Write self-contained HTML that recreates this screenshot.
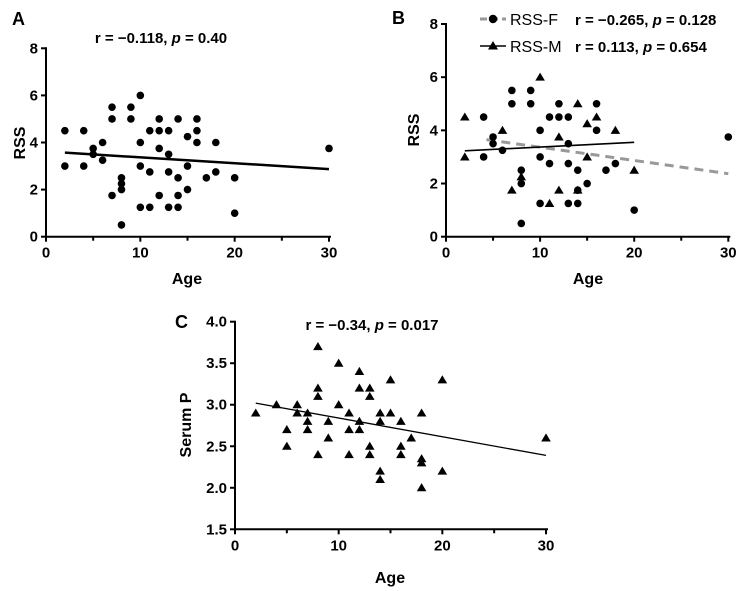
<!DOCTYPE html>
<html><head><meta charset="utf-8"><style>
body{margin:0;background:#fff}
svg{display:block;font-family:"Liberation Sans",Arial,sans-serif}
</style></head><body>
<svg id="c" width="748" height="591"></svg>
<script>
const aX=[2,2,4,4,5,5,6,6,7,7,7,8,8,8,8,9,9,10,10,10,10,11,11,11,12,12,12,12,13,13,13,13,14,14,14,14,15,15,15,16,16,16,17,18,18,20,20,30];
const aY=[4.5,3,4.5,3,3.75,3.5,4,3.25,5.5,5,1.75,2.5,2.25,2,0.5,5.5,5,6,4,3,1.25,4.5,2.75,1.25,5,4.5,3.75,1.75,4.5,3.5,2.75,1.25,5,2.5,1.75,1.25,4.25,3,2,5,4.5,4,2.5,4,2.75,2.5,1,3.75];
const aLine=[[2,3.57],[30,2.87]];
const fX=[4,4,5,5,6,7,7,8,8,8,9,9,10,10,10,11,11,12,12,13,13,13,13,14,14,14,15,16,16,17,18,20,30];
const fY=[4.5,3,3.75,3.5,3.25,5.5,5,2.5,2,0.5,5.5,5,4,3,1.25,4.5,2.75,5,4.5,4.5,3.5,2.75,1.25,2.5,1.75,1.25,2,5,4,2.5,2.75,1,3.75];
const mX=[2,2,6,7,8,10,11,12,12,14,14,15,15,16,18,20];
const mY=[4.5,3,4,1.75,2.25,6,1.25,3.75,1.75,5,1.75,4.25,3,4.5,4,2.5];
const fLine=[[4.3,3.65],[30,2.37]];
const mLine=[[2,3.23],[20,3.55]];
const cX=[2,4,5,5,6,6,7,7,7,8,8,8,8,9,9,10,10,11,11,11,12,12,12,12,13,13,13,13,14,14,14,14,15,15,16,16,16,17,18,18,18,18,20,20,30];
const cY=[2.9,3.0,2.7,2.5,3.0,2.9,2.9,2.8,2.7,3.7,3.2,3.1,2.4,2.8,2.6,3.5,3.0,2.9,2.7,2.4,3.4,3.2,2.8,2.7,3.2,3.1,2.5,2.4,2.9,2.8,2.2,2.1,3.3,2.9,2.8,2.5,2.4,2.6,2.9,2.35,2.3,2.0,3.3,2.2,2.6];
const cLine=[[2,3.02],[30,2.39]];
const xTicks=[0,10,20,30];
const yTicksAB=[0,2,4,6,8];
const yTicksC=["1.5","2.0","2.5","3.0","3.5","4.0"];

const svg=document.getElementById('c');
const NS="http://www.w3.org/2000/svg";
function mk(tag,at,parent,txt){const e=document.createElementNS(NS,tag);for(const k in at)e.setAttribute(k,at[k]);if(txt!==undefined)e.textContent=txt;(parent||svg).appendChild(e);return e;}
const TICK='font-size:15px;font-weight:bold';

function panel(name,x0,x1,yb,yt,ymin,ymax,yticks){
  const g=mk('g',{},svg);
  
  
  const sx=v=>x0+(v-0)/30*(x1-x0);
  const sy=v=>yb-(v-ymin)/(ymax-ymin)*(yb-yt);
  const ax=mk('g',{stroke:'#000','stroke-width':2,fill:'none'},g);
  
  
  mk('line',{x1:x0,y1:yb,x2:x1+2,y2:yb},ax);
  mk('line',{x1:x0,y1:yb+1,x2:x0,y2:yt-1},ax);
  for(let v=0;v<=30;v+=5){mk('line',{x1:sx(v),y1:yb,x2:sx(v),y2:yb+(v%10==0?5:4)},ax);}
  xTicks.forEach(v=>{const t=mk('text',{x:sx(v),y:yb+21,'text-anchor':'middle',style:TICK},g,String(v));
    });
  yticks.forEach(s=>{const v=parseFloat(s);mk('line',{x1:x0-5,y1:sy(v),x2:x0,y2:sy(v)},ax);
    const t=mk('text',{x:x0-8,y:sy(v)+5,'text-anchor':'end',style:TICK},g,s);
    });
  return {g,sx,sy};
}
function dots(p,X,Y,shape,nm){
  X.forEach((x,i)=>{const cx=p.sx(x),cy=p.sy(Y[i]);let e;
    if(shape==='c')e=mk('circle',{cx,cy,r:3.8,fill:'#000'},p.g);
    else e=mk('polygon',{points:`${cx},${cy-4.6} ${cx-4.8},${cy+3.5} ${cx+4.8},${cy+3.5}`,fill:'#000'},p.g);
    });
}
function fit(p,L,attrs,nm){const e=mk('line',Object.assign({x1:p.sx(L[0][0]),y1:p.sy(L[0][1]),x2:p.sx(L[1][0]),y2:p.sy(L[1][1])},attrs),p.g);
  }
function txt(x,y,s,style,extra,nm){const e=mk('text',Object.assign({x,y,style},extra||{}),svg);e.innerHTML=s;
  return e;}
const STAT='font-size:15px;font-weight:bold';
const AT='font-size:16px;font-weight:bold';
const LET='font-size:18px;font-weight:bold';

// Panel A
const A=panel('panel-a',46,329,236.7,48.3,0,8,yTicksAB.map(String));
dots(A,aX,aY,'c','point-a');
fit(A,aLine,{stroke:'#000','stroke-width':2.5},'fit-line-a');
txt(12,25,'A',LET,{},'panel-letter-a');
txt(161,43,'r = \u22120.118, <tspan font-style="italic">p</tspan> = 0.40',STAT,{'text-anchor':'middle'},'stat-a');
txt(187,284,'Age',AT,{'text-anchor':'middle'},'x-axis-title-a');
txt(0,0,'RSS',AT,{'text-anchor':'middle',transform:'translate(25,143) rotate(-90)'},'y-axis-title-a');

// Panel B
const B=panel('panel-b',446,728.3,236.7,24,0,8,yTicksAB.map(String));
fit(B,fLine,{stroke:'#999','stroke-width':3,'stroke-dasharray':'9,6'},'fit-line-female');
dots(B,fX,fY,'c','point-female');
dots(B,mX,mY,'t','point-male');
fit(B,mLine,{stroke:'#000','stroke-width':1.6},'fit-line-male');
txt(392,24,'B',LET,{},'panel-letter-b');
const lg1=mk('line',{x1:480,y1:19,x2:506,y2:19,stroke:'#999','stroke-width':3,'stroke-dasharray':'7,4'});

const lc=mk('circle',{cx:493,cy:19,r:4.2,fill:'#000'});
const lg2=mk('line',{x1:480,y1:46,x2:506,y2:46,stroke:'#000','stroke-width':1.6});

const lt=mk('polygon',{points:'493,41 488,49.5 498,49.5',fill:'#000'});
txt(510,25,'RSS-F','font-size:16px',{},'legend-label-female');
txt(510,52,'RSS-M','font-size:16px',{},'legend-label-male');
txt(575,25,'r = \u22120.265, <tspan font-style="italic">p</tspan> = 0.128',STAT,{},'stat-female');
txt(575,52,'r = 0.113, <tspan font-style="italic">p</tspan> = 0.654',STAT,{},'stat-male');
txt(588,284,'Age',AT,{'text-anchor':'middle'},'x-axis-title-b');
txt(0,0,'RSS',AT,{'text-anchor':'middle',transform:'translate(419,130) rotate(-90)'},'y-axis-title-b');

// Panel C
const C=panel('panel-c',235,546,529.3,321.7,1.5,4,yTicksC);
dots(C,cX,cY,'t','point-c');
fit(C,cLine,{stroke:'#000','stroke-width':1.3},'fit-line-c');
txt(175,328,'C',LET,{},'panel-letter-c');
txt(372,330,'r = \u22120.34, <tspan font-style="italic">p</tspan> = 0.017',STAT,{'text-anchor':'middle'},'stat-c');
txt(390,583,'Age',AT,{'text-anchor':'middle'},'x-axis-title-c');
txt(0,0,'Serum P',AT,{'text-anchor':'middle',transform:'translate(191,425) rotate(-90)'},'y-axis-title-c');
</script>
</body></html>
